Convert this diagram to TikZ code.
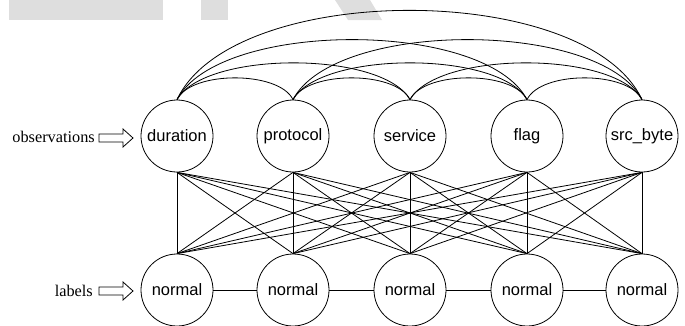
\documentclass[tikz,border=0pt]{standalone}
\usepackage{fontspec}
\setmainfont{Liberation Serif}
\newfontfamily\arial{Liberation Sans}
\usetikzlibrary{calc}
\definecolor{wm}{HTML}{DEDEDE}
\tikzset{
  var/.style={draw, circle, line width=0.8pt, minimum size=72pt, inner sep=0pt,
    font=\arial\fontsize{16.5}{18}\selectfont},
  lab/.style={anchor=east, inner sep=0pt, font=\fontsize{16.3}{18}\selectfont},
  edge/.style={line width=0.8pt},
  hollowarrow/.style={draw, line width=0.8pt, fill=white},
}
\begin{document}
\begin{tikzpicture}[x=1pt,y=-1pt]
\useasboundingbox (0,0) rectangle (685,325);
% watermark
\fill[wm] (9,0) rectangle (163,20);
\fill[wm] (201,0) rectangle (228,20);
\fill[wm] (335,0) -- (370,0) -- (382,20) -- (348,20) -- cycle;
% nodes
\foreach \n/\x/\t in {1/177/duration,2/293/protocol,3/410/service,4/527/flag,5/642/src\_byte}{
  \node[var] (t\n) at (\x,136) {\t};
  \node[var] (b\n) at (\x,290) {normal};
}
% labels
\node[lab] (obs) at (95,137) {observations};
\node[lab] (labs) at (93,291) {labels};
\coordinate (oa) at (99,138);
\coordinate (la) at (99,291);
\foreach \c in {oa,la}{
  \draw[hollowarrow] (\c) ++(0,-4) -- ++(24,0) -- ++(0,-5) -- ++(10,9) -- ++(-10,9) -- ++(0,-5) -- ++(-24,0) -- cycle;
}
% arcs between observations
\foreach \i/\j/\a/\H in {1/2/14/29,2/3/14/29,3/4/14/29,4/5/14/29,
  1/3/28/49,2/4/28/49,3/5/28/49,
  1/4/42/80,2/5/42/80,
  1/5/56/119}{
  \draw[edge] (t\i.north) .. controls +(\a,-\H) and +(-\a,-\H) .. (t\j.north);
}
% observation to label edges
\foreach \i in {1,...,5}{
  \foreach \j in {1,...,5}{
    \draw[edge] (t\i.south) -- (b\j.north);
  }
}
% label chain
\foreach \i/\j in {1/2,2/3,3/4,4/5}{
  \draw[edge] (b\i.east) -- (b\j.west);
}
\end{tikzpicture}
\end{document}
